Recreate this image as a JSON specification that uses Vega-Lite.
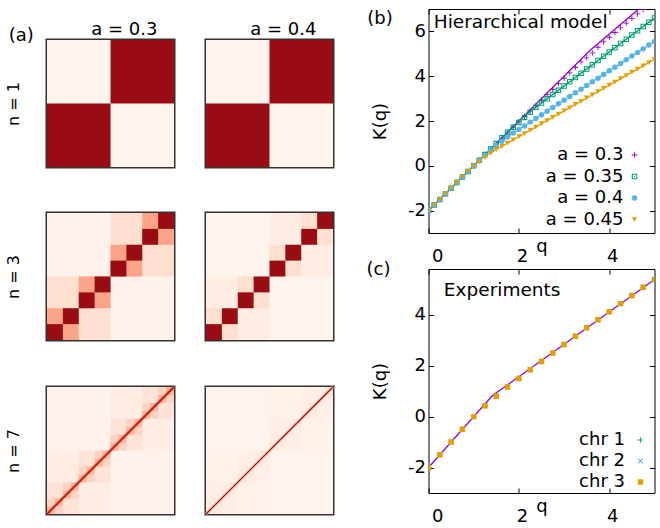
{
"$schema":"https://vega.github.io/schema/vega-lite/v6.json",
"padding":{"left":3,"top":8,"right":0,"bottom":0},
"config":{
 "font":"DejaVu Sans",
 "view":{"stroke":"#000","strokeWidth":1},
 "axis":{"labelFont":"DejaVu Sans","titleFont":"DejaVu Sans","labelColor":"#000","titleColor":"#000","titleFontWeight":"normal","tickColor":"#000","labelFontSize":18,"titleFontSize":18,"grid":false,"domain":false},
 "title":{"font":"DejaVu Sans","fontSize":18,"fontWeight":"normal","color":"#000"},
 "legend":{"labelFont":"DejaVu Sans","labelFontSize":18,"labelColor":"#000"},
 "text":{"font":"DejaVu Sans","fontSize":18,"color":"#000"}
},
"datasets":{
 "hm":[
  {"n":1,"x":0,"e":128,"v3":0.012,"v4":0.012},
  {"n":1,"x":0,"e":64,"v3":0.9,"v4":0.9},
  {"n":1,"x":64,"e":128,"v3":0.9,"v4":0.9},
  {"n":3,"x":0,"e":128,"v3":0.015,"v4":0.012},
  {"n":3,"x":0,"e":64,"v3":0.13,"v4":0.05},
  {"n":3,"x":64,"e":128,"v3":0.13,"v4":0.05},
  {"n":3,"x":0,"e":32,"v3":0.32,"v4":0.13},
  {"n":3,"x":32,"e":64,"v3":0.32,"v4":0.13},
  {"n":3,"x":64,"e":96,"v3":0.32,"v4":0.13},
  {"n":3,"x":96,"e":128,"v3":0.32,"v4":0.13},
  {"n":3,"x":0,"e":16,"v3":0.9,"v4":0.9},
  {"n":3,"x":16,"e":32,"v3":0.9,"v4":0.9},
  {"n":3,"x":32,"e":48,"v3":0.9,"v4":0.9},
  {"n":3,"x":48,"e":64,"v3":0.9,"v4":0.9},
  {"n":3,"x":64,"e":80,"v3":0.9,"v4":0.9},
  {"n":3,"x":80,"e":96,"v3":0.9,"v4":0.9},
  {"n":3,"x":96,"e":112,"v3":0.9,"v4":0.9},
  {"n":3,"x":112,"e":128,"v3":0.9,"v4":0.9},
  {"n":7,"x":0,"e":128,"v3":0.015,"v4":0.012},
  {"n":7,"x":0,"e":64,"v3":0.05,"v4":0.02},
  {"n":7,"x":64,"e":128,"v3":0.05,"v4":0.02},
  {"n":7,"x":0,"e":32,"v3":0.11,"v4":0.035},
  {"n":7,"x":32,"e":64,"v3":0.11,"v4":0.035},
  {"n":7,"x":64,"e":96,"v3":0.11,"v4":0.035},
  {"n":7,"x":96,"e":128,"v3":0.11,"v4":0.035},
  {"n":7,"x":0,"e":16,"v3":0.17,"v4":0.055},
  {"n":7,"x":16,"e":32,"v3":0.17,"v4":0.055},
  {"n":7,"x":32,"e":48,"v3":0.17,"v4":0.055},
  {"n":7,"x":48,"e":64,"v3":0.17,"v4":0.055},
  {"n":7,"x":64,"e":80,"v3":0.17,"v4":0.055},
  {"n":7,"x":80,"e":96,"v3":0.17,"v4":0.055},
  {"n":7,"x":96,"e":112,"v3":0.17,"v4":0.055},
  {"n":7,"x":112,"e":128,"v3":0.17,"v4":0.055},
  {"n":7,"x":0,"e":8,"v3":0.25,"v4":0.085},
  {"n":7,"x":8,"e":16,"v3":0.25,"v4":0.085},
  {"n":7,"x":16,"e":24,"v3":0.25,"v4":0.085},
  {"n":7,"x":24,"e":32,"v3":0.25,"v4":0.085},
  {"n":7,"x":32,"e":40,"v3":0.25,"v4":0.085},
  {"n":7,"x":40,"e":48,"v3":0.25,"v4":0.085},
  {"n":7,"x":48,"e":56,"v3":0.25,"v4":0.085},
  {"n":7,"x":56,"e":64,"v3":0.25,"v4":0.085},
  {"n":7,"x":64,"e":72,"v3":0.25,"v4":0.085},
  {"n":7,"x":72,"e":80,"v3":0.25,"v4":0.085},
  {"n":7,"x":80,"e":88,"v3":0.25,"v4":0.085},
  {"n":7,"x":88,"e":96,"v3":0.25,"v4":0.085},
  {"n":7,"x":96,"e":104,"v3":0.25,"v4":0.085},
  {"n":7,"x":104,"e":112,"v3":0.25,"v4":0.085},
  {"n":7,"x":112,"e":120,"v3":0.25,"v4":0.085},
  {"n":7,"x":120,"e":128,"v3":0.25,"v4":0.085},
  {"n":7,"x":0,"e":4,"v3":0.35,"v4":0.13},
  {"n":7,"x":4,"e":8,"v3":0.35,"v4":0.13},
  {"n":7,"x":8,"e":12,"v3":0.35,"v4":0.13},
  {"n":7,"x":12,"e":16,"v3":0.35,"v4":0.13},
  {"n":7,"x":16,"e":20,"v3":0.35,"v4":0.13},
  {"n":7,"x":20,"e":24,"v3":0.35,"v4":0.13},
  {"n":7,"x":24,"e":28,"v3":0.35,"v4":0.13},
  {"n":7,"x":28,"e":32,"v3":0.35,"v4":0.13},
  {"n":7,"x":32,"e":36,"v3":0.35,"v4":0.13},
  {"n":7,"x":36,"e":40,"v3":0.35,"v4":0.13},
  {"n":7,"x":40,"e":44,"v3":0.35,"v4":0.13},
  {"n":7,"x":44,"e":48,"v3":0.35,"v4":0.13},
  {"n":7,"x":48,"e":52,"v3":0.35,"v4":0.13},
  {"n":7,"x":52,"e":56,"v3":0.35,"v4":0.13},
  {"n":7,"x":56,"e":60,"v3":0.35,"v4":0.13},
  {"n":7,"x":60,"e":64,"v3":0.35,"v4":0.13},
  {"n":7,"x":64,"e":68,"v3":0.35,"v4":0.13},
  {"n":7,"x":68,"e":72,"v3":0.35,"v4":0.13},
  {"n":7,"x":72,"e":76,"v3":0.35,"v4":0.13},
  {"n":7,"x":76,"e":80,"v3":0.35,"v4":0.13},
  {"n":7,"x":80,"e":84,"v3":0.35,"v4":0.13},
  {"n":7,"x":84,"e":88,"v3":0.35,"v4":0.13},
  {"n":7,"x":88,"e":92,"v3":0.35,"v4":0.13},
  {"n":7,"x":92,"e":96,"v3":0.35,"v4":0.13},
  {"n":7,"x":96,"e":100,"v3":0.35,"v4":0.13},
  {"n":7,"x":100,"e":104,"v3":0.35,"v4":0.13},
  {"n":7,"x":104,"e":108,"v3":0.35,"v4":0.13},
  {"n":7,"x":108,"e":112,"v3":0.35,"v4":0.13},
  {"n":7,"x":112,"e":116,"v3":0.35,"v4":0.13},
  {"n":7,"x":116,"e":120,"v3":0.35,"v4":0.13},
  {"n":7,"x":120,"e":124,"v3":0.35,"v4":0.13},
  {"n":7,"x":124,"e":128,"v3":0.35,"v4":0.13}
 ],
 "dg":[
  {"n":7,"k":"b","x":0,"e":128,"v3":0.5,"v4":0.24},
  {"n":7,"k":"d","x":0,"e":128,"v3":0.9,"v4":0.9}
 ],
 "lb":[
  {"s":"a = 0.3","q":0,"K":-2},{"s":"a = 0.3","q":3.571,"K":5.143},{"s":"a = 0.3","q":5,"K":7.6},
  {"s":"a = 0.35","q":0,"K":-2},{"s":"a = 0.35","q":2.083,"K":2.167},{"s":"a = 0.35","q":5,"K":6.6},
  {"s":"a = 0.4","q":0,"K":-2},{"s":"a = 0.4","q":1.449,"K":0.899},{"s":"a = 0.4","q":5,"K":5.55},
  {"s":"a = 0.45","q":0,"K":-2},{"s":"a = 0.45","q":1.176,"K":0.353},{"s":"a = 0.45","q":5,"K":4.75}
 ],
 "kb":[
  {"s":"a = 0.3","q":0,"K":-2},{"s":"a = 0.3","q":0.125,"K":-1.75},{"s":"a = 0.3","q":0.25,"K":-1.5},{"s":"a = 0.3","q":0.375,"K":-1.25},{"s":"a = 0.3","q":0.5,"K":-1},{"s":"a = 0.3","q":0.625,"K":-0.75},{"s":"a = 0.3","q":0.75,"K":-0.5},{"s":"a = 0.3","q":0.875,"K":-0.25},{"s":"a = 0.3","q":1,"K":0},{"s":"a = 0.3","q":1.125,"K":0.25},{"s":"a = 0.3","q":1.25,"K":0.5},{"s":"a = 0.3","q":1.375,"K":0.74},{"s":"a = 0.3","q":1.5,"K":0.98},{"s":"a = 0.3","q":1.625,"K":1.23},{"s":"a = 0.3","q":1.75,"K":1.47},{"s":"a = 0.3","q":1.875,"K":1.72},{"s":"a = 0.3","q":2,"K":1.96},{"s":"a = 0.3","q":2.125,"K":2.2},{"s":"a = 0.3","q":2.25,"K":2.45},{"s":"a = 0.3","q":2.375,"K":2.69},{"s":"a = 0.3","q":2.5,"K":2.94},{"s":"a = 0.3","q":2.625,"K":3.18},{"s":"a = 0.3","q":2.75,"K":3.42},{"s":"a = 0.3","q":2.875,"K":3.67},{"s":"a = 0.3","q":3,"K":3.91},{"s":"a = 0.3","q":3.125,"K":4.15},{"s":"a = 0.3","q":3.25,"K":4.4},{"s":"a = 0.3","q":3.375,"K":4.64},{"s":"a = 0.3","q":3.5,"K":4.82},{"s":"a = 0.3","q":3.625,"K":5.04},{"s":"a = 0.3","q":3.75,"K":5.29},{"s":"a = 0.3","q":3.875,"K":5.53},{"s":"a = 0.3","q":4,"K":5.74},{"s":"a = 0.3","q":4.125,"K":5.95},{"s":"a = 0.3","q":4.25,"K":6.16},{"s":"a = 0.3","q":4.375,"K":6.37},{"s":"a = 0.3","q":4.5,"K":6.58},{"s":"a = 0.3","q":4.625,"K":6.78},{"s":"a = 0.3","q":4.75,"K":6.99},{"s":"a = 0.3","q":4.875,"K":7.2},{"s":"a = 0.3","q":5,"K":7.41},
  {"s":"a = 0.35","q":0,"K":-2},{"s":"a = 0.35","q":0.125,"K":-1.75},{"s":"a = 0.35","q":0.25,"K":-1.5},{"s":"a = 0.35","q":0.375,"K":-1.25},{"s":"a = 0.35","q":0.5,"K":-1},{"s":"a = 0.35","q":0.625,"K":-0.75},{"s":"a = 0.35","q":0.75,"K":-0.5},{"s":"a = 0.35","q":0.875,"K":-0.25},{"s":"a = 0.35","q":1,"K":0},{"s":"a = 0.35","q":1.125,"K":0.25},{"s":"a = 0.35","q":1.25,"K":0.5},{"s":"a = 0.35","q":1.375,"K":0.75},{"s":"a = 0.35","q":1.5,"K":1},{"s":"a = 0.35","q":1.625,"K":1.25},{"s":"a = 0.35","q":1.75,"K":1.5},{"s":"a = 0.35","q":1.875,"K":1.72},{"s":"a = 0.35","q":2,"K":1.93},{"s":"a = 0.35","q":2.125,"K":2.16},{"s":"a = 0.35","q":2.25,"K":2.39},{"s":"a = 0.35","q":2.375,"K":2.61},{"s":"a = 0.35","q":2.5,"K":2.8},{"s":"a = 0.35","q":2.625,"K":2.99},{"s":"a = 0.35","q":2.75,"K":3.18},{"s":"a = 0.35","q":2.875,"K":3.37},{"s":"a = 0.35","q":3,"K":3.56},{"s":"a = 0.35","q":3.125,"K":3.75},{"s":"a = 0.35","q":3.25,"K":3.94},{"s":"a = 0.35","q":3.375,"K":4.13},{"s":"a = 0.35","q":3.5,"K":4.32},{"s":"a = 0.35","q":3.625,"K":4.51},{"s":"a = 0.35","q":3.75,"K":4.7},{"s":"a = 0.35","q":3.875,"K":4.89},{"s":"a = 0.35","q":4,"K":5.08},{"s":"a = 0.35","q":4.125,"K":5.27},{"s":"a = 0.35","q":4.25,"K":5.46},{"s":"a = 0.35","q":4.375,"K":5.65},{"s":"a = 0.35","q":4.5,"K":5.84},{"s":"a = 0.35","q":4.625,"K":6.03},{"s":"a = 0.35","q":4.75,"K":6.22},{"s":"a = 0.35","q":4.875,"K":6.41},{"s":"a = 0.35","q":5,"K":6.6},
  {"s":"a = 0.4","q":0,"K":-2},{"s":"a = 0.4","q":0.125,"K":-1.75},{"s":"a = 0.4","q":0.25,"K":-1.5},{"s":"a = 0.4","q":0.375,"K":-1.25},{"s":"a = 0.4","q":0.5,"K":-1},{"s":"a = 0.4","q":0.625,"K":-0.75},{"s":"a = 0.4","q":0.75,"K":-0.5},{"s":"a = 0.4","q":0.875,"K":-0.25},{"s":"a = 0.4","q":1,"K":0},{"s":"a = 0.4","q":1.125,"K":0.25},{"s":"a = 0.4","q":1.25,"K":0.47},{"s":"a = 0.4","q":1.375,"K":0.68},{"s":"a = 0.4","q":1.5,"K":0.9},{"s":"a = 0.4","q":1.625,"K":1.1},{"s":"a = 0.4","q":1.75,"K":1.29},{"s":"a = 0.4","q":1.875,"K":1.46},{"s":"a = 0.4","q":2,"K":1.62},{"s":"a = 0.4","q":2.125,"K":1.78},{"s":"a = 0.4","q":2.25,"K":1.95},{"s":"a = 0.4","q":2.375,"K":2.11},{"s":"a = 0.4","q":2.5,"K":2.28},{"s":"a = 0.4","q":2.625,"K":2.44},{"s":"a = 0.4","q":2.75,"K":2.6},{"s":"a = 0.4","q":2.875,"K":2.77},{"s":"a = 0.4","q":3,"K":2.93},{"s":"a = 0.4","q":3.125,"K":3.09},{"s":"a = 0.4","q":3.25,"K":3.26},{"s":"a = 0.4","q":3.375,"K":3.42},{"s":"a = 0.4","q":3.5,"K":3.59},{"s":"a = 0.4","q":3.625,"K":3.75},{"s":"a = 0.4","q":3.75,"K":3.91},{"s":"a = 0.4","q":3.875,"K":4.08},{"s":"a = 0.4","q":4,"K":4.24},{"s":"a = 0.4","q":4.125,"K":4.4},{"s":"a = 0.4","q":4.25,"K":4.57},{"s":"a = 0.4","q":4.375,"K":4.73},{"s":"a = 0.4","q":4.5,"K":4.9},{"s":"a = 0.4","q":4.625,"K":5.06},{"s":"a = 0.4","q":4.75,"K":5.22},{"s":"a = 0.4","q":4.875,"K":5.39},{"s":"a = 0.4","q":5,"K":5.55},
  {"s":"a = 0.45","q":0,"K":-2},{"s":"a = 0.45","q":0.125,"K":-1.75},{"s":"a = 0.45","q":0.25,"K":-1.5},{"s":"a = 0.45","q":0.375,"K":-1.25},{"s":"a = 0.45","q":0.5,"K":-1},{"s":"a = 0.45","q":0.625,"K":-0.75},{"s":"a = 0.45","q":0.75,"K":-0.5},{"s":"a = 0.45","q":0.875,"K":-0.25},{"s":"a = 0.45","q":1,"K":-0.03},{"s":"a = 0.45","q":1.125,"K":0.18},{"s":"a = 0.45","q":1.25,"K":0.37},{"s":"a = 0.45","q":1.375,"K":0.55},{"s":"a = 0.45","q":1.5,"K":0.72},{"s":"a = 0.45","q":1.625,"K":0.87},{"s":"a = 0.45","q":1.75,"K":1.01},{"s":"a = 0.45","q":1.875,"K":1.16},{"s":"a = 0.45","q":2,"K":1.3},{"s":"a = 0.45","q":2.125,"K":1.44},{"s":"a = 0.45","q":2.25,"K":1.59},{"s":"a = 0.45","q":2.375,"K":1.73},{"s":"a = 0.45","q":2.5,"K":1.88},{"s":"a = 0.45","q":2.625,"K":2.02},{"s":"a = 0.45","q":2.75,"K":2.16},{"s":"a = 0.45","q":2.875,"K":2.31},{"s":"a = 0.45","q":3,"K":2.45},{"s":"a = 0.45","q":3.125,"K":2.59},{"s":"a = 0.45","q":3.25,"K":2.74},{"s":"a = 0.45","q":3.375,"K":2.88},{"s":"a = 0.45","q":3.5,"K":3.03},{"s":"a = 0.45","q":3.625,"K":3.17},{"s":"a = 0.45","q":3.75,"K":3.31},{"s":"a = 0.45","q":3.875,"K":3.46},{"s":"a = 0.45","q":4,"K":3.6},{"s":"a = 0.45","q":4.125,"K":3.74},{"s":"a = 0.45","q":4.25,"K":3.89},{"s":"a = 0.45","q":4.375,"K":4.03},{"s":"a = 0.45","q":4.5,"K":4.18},{"s":"a = 0.45","q":4.625,"K":4.32},{"s":"a = 0.45","q":4.75,"K":4.46},{"s":"a = 0.45","q":4.875,"K":4.61},{"s":"a = 0.45","q":5,"K":4.75}
 ],
 "lc":[{"q":0,"K":-2},{"q":1.41,"K":0.82},{"q":5,"K":5.39}],
 "kc":[
  {"s":"chr 1","q":0,"K":-2},{"s":"chr 1","q":0.25,"K":-1.5},{"s":"chr 1","q":0.5,"K":-1},{"s":"chr 1","q":0.75,"K":-0.5},{"s":"chr 1","q":1,"K":0},{"s":"chr 1","q":1.25,"K":0.43},{"s":"chr 1","q":1.5,"K":0.8},{"s":"chr 1","q":1.75,"K":1.16},{"s":"chr 1","q":2,"K":1.5},{"s":"chr 1","q":2.25,"K":1.84},{"s":"chr 1","q":2.5,"K":2.17},{"s":"chr 1","q":2.75,"K":2.5},{"s":"chr 1","q":3,"K":2.83},{"s":"chr 1","q":3.25,"K":3.16},{"s":"chr 1","q":3.5,"K":3.49},{"s":"chr 1","q":3.75,"K":3.81},{"s":"chr 1","q":4,"K":4.12},{"s":"chr 1","q":4.25,"K":4.44},{"s":"chr 1","q":4.5,"K":4.76},{"s":"chr 1","q":4.75,"K":5.08},{"s":"chr 1","q":5,"K":5.39},
  {"s":"chr 2","q":0,"K":-2},{"s":"chr 2","q":0.25,"K":-1.5},{"s":"chr 2","q":0.5,"K":-1},{"s":"chr 2","q":0.75,"K":-0.5},{"s":"chr 2","q":1,"K":0},{"s":"chr 2","q":1.25,"K":0.43},{"s":"chr 2","q":1.5,"K":0.8},{"s":"chr 2","q":1.75,"K":1.16},{"s":"chr 2","q":2,"K":1.5},{"s":"chr 2","q":2.25,"K":1.84},{"s":"chr 2","q":2.5,"K":2.17},{"s":"chr 2","q":2.75,"K":2.5},{"s":"chr 2","q":3,"K":2.83},{"s":"chr 2","q":3.25,"K":3.16},{"s":"chr 2","q":3.5,"K":3.49},{"s":"chr 2","q":3.75,"K":3.81},{"s":"chr 2","q":4,"K":4.12},{"s":"chr 2","q":4.25,"K":4.44},{"s":"chr 2","q":4.5,"K":4.76},{"s":"chr 2","q":4.75,"K":5.08},{"s":"chr 2","q":5,"K":5.39},
  {"s":"chr 3","q":0,"K":-2},{"s":"chr 3","q":0.25,"K":-1.5},{"s":"chr 3","q":0.5,"K":-1},{"s":"chr 3","q":0.75,"K":-0.5},{"s":"chr 3","q":1,"K":0},{"s":"chr 3","q":1.25,"K":0.43},{"s":"chr 3","q":1.5,"K":0.8},{"s":"chr 3","q":1.75,"K":1.16},{"s":"chr 3","q":2,"K":1.5},{"s":"chr 3","q":2.25,"K":1.84},{"s":"chr 3","q":2.5,"K":2.17},{"s":"chr 3","q":2.75,"K":2.5},{"s":"chr 3","q":3,"K":2.83},{"s":"chr 3","q":3.25,"K":3.16},{"s":"chr 3","q":3.5,"K":3.49},{"s":"chr 3","q":3.75,"K":3.81},{"s":"chr 3","q":4,"K":4.12},{"s":"chr 3","q":4.25,"K":4.44},{"s":"chr 3","q":4.5,"K":4.76},{"s":"chr 3","q":4.75,"K":5.08},{"s":"chr 3","q":5,"K":5.39}
 ]
},
"spacing":29.5,
"resolve":{"scale":{"color":"independent","shape":"independent"}},
"hconcat":[
 {"spacing":0,
  "vconcat":[
   {"width":1,"height":10,"view":{"stroke":null,"fill":"transparent"},"data":{"values":[]},"mark":"point"},
   {"spacing":42,
    "vconcat":[
     {"bounds":"flush","spacing":32,"hconcat":[
      {"width":127,"height":127,"view":{"stroke":"#333","strokeWidth":3},
       "layer":[
        {"data":{"name":"hm"},"transform":[{"filter":"datum.n==1"}],"mark":{"type":"rect","opacity":1},
         "encoding":{
          "x":{"field":"x","type":"quantitative","scale":{"domain":[0,128],"nice":false,"zero":false},"axis":null},
          "x2":{"field":"e"},
          "y":{"field":"x","type":"quantitative","scale":{"domain":[0,128],"nice":false,"zero":false},"axis":{"title":"n = 1","labels":false,"ticks":false,"titleFontSize":16,"titlePadding":26}},
          "y2":{"field":"e"},
          "color":{"field":"v3","type":"quantitative","scale":{"domain":[0,1],"range":["#fff5f0","#fee0d2","#fcbba1","#fc9272","#fb6a4a","#ef3b2c","#cb181d","#a50f15","#67000d"],"interpolate":"rgb","nice":false,"zero":false},"legend":null}}},
        {"data":{"values":[{"t":"a = 0.3"}]},"mark":{"type":"text","align":"center","baseline":"alphabetic"},
         "encoding":{"x":{"datum":78},"y":{"datum":132.7},"text":{"field":"t"}}},
        {"data":{"values":[{"t":"(a)"}]},"mark":{"type":"text","align":"left","baseline":"alphabetic"},
         "encoding":{"x":{"datum":-38.5},"y":{"datum":126.5},"text":{"field":"t"}}}
       ]},
      {"width":127,"height":127,"view":{"stroke":"#333","strokeWidth":3},
       "layer":[
        {"data":{"name":"hm"},"transform":[{"filter":"datum.n==1"}],"mark":{"type":"rect","opacity":1},
         "encoding":{
          "x":{"field":"x","type":"quantitative","scale":{"domain":[0,128],"nice":false,"zero":false},"axis":null},
          "x2":{"field":"e"},
          "y":{"field":"x","type":"quantitative","scale":{"domain":[0,128],"nice":false,"zero":false},"axis":null},
          "y2":{"field":"e"},
          "color":{"field":"v4","type":"quantitative","scale":{"domain":[0,1],"range":["#fff5f0","#fee0d2","#fcbba1","#fc9272","#fb6a4a","#ef3b2c","#cb181d","#a50f15","#67000d"],"interpolate":"rgb","nice":false,"zero":false},"legend":null}}},
        {"data":{"values":[{"t":"a = 0.4"}]},"mark":{"type":"text","align":"center","baseline":"alphabetic"},
         "encoding":{"x":{"datum":78},"y":{"datum":132.7},"text":{"field":"t"}}}
       ]}
     ]},
     {"bounds":"flush","spacing":32,"hconcat":[
      {"width":127,"height":127,"view":{"stroke":"#333","strokeWidth":3},
       "data":{"name":"hm"},"transform":[{"filter":"datum.n==3"}],"mark":{"type":"rect","opacity":1},
       "encoding":{
        "x":{"field":"x","type":"quantitative","scale":{"domain":[0,128],"nice":false,"zero":false},"axis":null},
        "x2":{"field":"e"},
        "y":{"field":"x","type":"quantitative","scale":{"domain":[0,128],"nice":false,"zero":false},"axis":{"title":"n = 3","labels":false,"ticks":false,"titleFontSize":16,"titlePadding":26}},
        "y2":{"field":"e"},
        "color":{"field":"v3","type":"quantitative","scale":{"domain":[0,1],"range":["#fff5f0","#fee0d2","#fcbba1","#fc9272","#fb6a4a","#ef3b2c","#cb181d","#a50f15","#67000d"],"interpolate":"rgb","nice":false,"zero":false},"legend":null}}},
      {"width":127,"height":127,"view":{"stroke":"#333","strokeWidth":3},
       "data":{"name":"hm"},"transform":[{"filter":"datum.n==3"}],"mark":{"type":"rect","opacity":1},
       "encoding":{
        "x":{"field":"x","type":"quantitative","scale":{"domain":[0,128],"nice":false,"zero":false},"axis":null},
        "x2":{"field":"e"},
        "y":{"field":"x","type":"quantitative","scale":{"domain":[0,128],"nice":false,"zero":false},"axis":null},
        "y2":{"field":"e"},
        "color":{"field":"v4","type":"quantitative","scale":{"domain":[0,1],"range":["#fff5f0","#fee0d2","#fcbba1","#fc9272","#fb6a4a","#ef3b2c","#cb181d","#a50f15","#67000d"],"interpolate":"rgb","nice":false,"zero":false},"legend":null}}}
     ]},
     {"bounds":"flush","spacing":32,"hconcat":[
      {"width":127,"height":127,"view":{"stroke":"#333","strokeWidth":3},
       "layer":[
        {"data":{"name":"hm"},"transform":[{"filter":"datum.n==7"}],"mark":{"type":"rect","opacity":1},
         "encoding":{
          "x":{"field":"x","type":"quantitative","scale":{"domain":[0,128],"nice":false,"zero":false},"axis":null},
          "x2":{"field":"e"},
          "y":{"field":"x","type":"quantitative","scale":{"domain":[0,128],"nice":false,"zero":false},"axis":{"title":"n = 7","labels":false,"ticks":false,"titleFontSize":16,"titlePadding":26}},
          "y2":{"field":"e"},
          "color":{"field":"v3","type":"quantitative","scale":{"domain":[0,1],"range":["#fff5f0","#fee0d2","#fcbba1","#fc9272","#fb6a4a","#ef3b2c","#cb181d","#a50f15","#67000d"],"interpolate":"rgb","nice":false,"zero":false},"legend":null}}},
        {"data":{"name":"dg"},"transform":[{"filter":"datum.k=='b'"}],"mark":{"type":"rule","strokeWidth":2.8,"opacity":1},
         "encoding":{"x":{"field":"x","type":"quantitative"},"x2":{"field":"e"},"y":{"field":"x","type":"quantitative"},"y2":{"field":"e"},"color":{"field":"v3","type":"quantitative","legend":null}}},
        {"data":{"name":"dg"},"transform":[{"filter":"datum.k=='d'"}],"mark":{"type":"rule","strokeWidth":1.1,"opacity":1},
         "encoding":{"x":{"field":"x","type":"quantitative"},"x2":{"field":"e"},"y":{"field":"x","type":"quantitative"},"y2":{"field":"e"},"color":{"field":"v3","type":"quantitative","legend":null}}}
       ]},
      {"width":127,"height":127,"view":{"stroke":"#333","strokeWidth":3},
       "layer":[
        {"data":{"name":"hm"},"transform":[{"filter":"datum.n==7"}],"mark":{"type":"rect","opacity":1},
         "encoding":{
          "x":{"field":"x","type":"quantitative","scale":{"domain":[0,128],"nice":false,"zero":false},"axis":null},
          "x2":{"field":"e"},
          "y":{"field":"x","type":"quantitative","scale":{"domain":[0,128],"nice":false,"zero":false},"axis":null},
          "y2":{"field":"e"},
          "color":{"field":"v4","type":"quantitative","scale":{"domain":[0,1],"range":["#fff5f0","#fee0d2","#fcbba1","#fc9272","#fb6a4a","#ef3b2c","#cb181d","#a50f15","#67000d"],"interpolate":"rgb","nice":false,"zero":false},"legend":null}}},
        {"data":{"name":"dg"},"transform":[{"filter":"datum.k=='b'"}],"mark":{"type":"rule","strokeWidth":2.8,"opacity":1},
         "encoding":{"x":{"field":"x","type":"quantitative"},"x2":{"field":"e"},"y":{"field":"x","type":"quantitative"},"y2":{"field":"e"},"color":{"field":"v4","type":"quantitative","legend":null}}},
        {"data":{"name":"dg"},"transform":[{"filter":"datum.k=='d'"}],"mark":{"type":"rule","strokeWidth":1.1,"opacity":1},
         "encoding":{"x":{"field":"x","type":"quantitative"},"x2":{"field":"e"},"y":{"field":"x","type":"quantitative"},"y2":{"field":"e"},"color":{"field":"v4","type":"quantitative","legend":null}}}
       ]}
     ]}
    ]}
  ]},
 {"bounds":"flush","spacing":36,
  "resolve":{"scale":{"color":"independent","shape":"independent"}},
  "vconcat":[
   {"width":226,"height":224,
    "resolve":{"axis":{"x":"independent","y":"independent"}},
    "layer":[
     {"data":{"name":"lb"},"transform":[{"filter":"datum.s=='a = 0.3'"}],"mark":{"type":"line","clip":true,"strokeWidth":1.3,"color":"#9400d3"},
      "encoding":{
       "x":{"field":"q","type":"quantitative","scale":{"domain":[0,5],"nice":false,"zero":false},"axis":{"values":[0,2,4],"tickSize":-5,"labelPadding":19,"labelOffset":3,"title":"q","titleY":18,"titleBaseline":"alphabetic","labelExpr":"''+datum.value"}},
       "y":{"field":"K","type":"quantitative","scale":{"domain":[-3,7],"nice":false,"zero":false},"axis":{"values":[-2,0,2,4,6],"tickSize":-5,"labelPadding":8,"title":"K(q)","titlePadding":18,"labelExpr":"''+datum.value"}}}},
     {"data":{"name":"lb"},"transform":[{"filter":"datum.s=='a = 0.35'"}],"mark":{"type":"line","clip":true,"strokeWidth":1.3,"color":"#009e73"},
      "encoding":{"x":{"field":"q","type":"quantitative","axis":null},"y":{"field":"K","type":"quantitative","axis":null}}},
     {"data":{"name":"lb"},"transform":[{"filter":"datum.s=='a = 0.4'"}],"mark":{"type":"line","clip":true,"strokeWidth":1.3,"color":"#56b4e9"},
      "encoding":{"x":{"field":"q","type":"quantitative","axis":null},"y":{"field":"K","type":"quantitative","axis":null}}},
     {"data":{"name":"lb"},"transform":[{"filter":"datum.s=='a = 0.45'"}],"mark":{"type":"line","clip":true,"strokeWidth":1.3,"color":"#e69f00"},
      "encoding":{"x":{"field":"q","type":"quantitative","axis":null},"y":{"field":"K","type":"quantitative","axis":null}}},
     {"data":{"name":"kb"},"mark":{"type":"point","filled":true,"clip":true,"size":30,"opacity":1},
      "encoding":{
       "x":{"field":"q","type":"quantitative","axis":null},
       "y":{"field":"K","type":"quantitative","axis":null},
       "color":{"field":"s","type":"nominal","scale":{"domain":["a = 0.3","a = 0.35","a = 0.4","a = 0.45"],"range":["#9400d3","#009e73","#56b4e9","#e69f00"]},
        "legend":{"orient":"none","legendX":197,"legendY":137,"title":null,"labelAlign":"right","labelOffset":-20,"rowPadding":3.5,"labelLimit":0,"symbolSize":30}},
       "shape":{"field":"s","type":"nominal","scale":{"domain":["a = 0.3","a = 0.35","a = 0.4","a = 0.45"],"range":["M-1,-0.16H-0.16V-1H0.16V-0.16H1V0.16H0.16V1H-0.16V0.16H-1Z","M-1,-1H1V1H-1Z M-0.62,-0.62V0.62H0.62V-0.62Z M-0.2,-0.2H0.2V0.2H-0.2Z","circle","triangle-down"]},
        "legend":{"orient":"none","legendX":197,"legendY":137,"title":null,"labelAlign":"right","labelOffset":-20,"rowPadding":3.5,"labelLimit":0,"symbolSize":30}}}},
     {"data":{"values":[{"t":"(b)"}]},"mark":{"type":"text","align":"left","baseline":"alphabetic"},
      "encoding":{"x":{"datum":-1.356,"axis":null},"y":{"datum":6.33,"axis":null},"text":{"field":"t"}}},
     {"data":{"values":[{"t":"Hierarchical model"}]},"mark":{"type":"text","align":"left","baseline":"alphabetic","fontSize":18.5},
      "encoding":{"x":{"datum":0.117,"axis":null},"y":{"datum":6.14,"axis":null},"text":{"field":"t"}}},
     {"data":{"name":"lb"},"mark":{"type":"point","opacity":0,"clip":true},
      "encoding":{
       "x":{"field":"q","type":"quantitative","axis":{"orient":"top","values":[0,2,4],"labels":false,"tickSize":-5,"title":null,"minExtent":0,"maxExtent":0}},
       "y":{"field":"K","type":"quantitative","axis":{"orient":"right","values":[-2,0,2,4,6],"labels":false,"tickSize":-5,"title":null,"minExtent":0,"maxExtent":0}}}}
    ]},
   {"width":226,"height":224,
    "resolve":{"axis":{"x":"independent","y":"independent"}},
    "layer":[
     {"data":{"name":"lc"},"mark":{"type":"line","clip":true,"strokeWidth":1.3,"color":"#9400d3"},
      "encoding":{
       "x":{"field":"q","type":"quantitative","scale":{"domain":[0,5],"nice":false,"zero":false},"axis":{"values":[0,2,4],"tickSize":-5,"labelPadding":19,"labelOffset":3,"title":"q","titleY":18,"titleBaseline":"alphabetic","labelExpr":"''+datum.value"}},
       "y":{"field":"K","type":"quantitative","scale":{"domain":[-3,5.8],"nice":false,"zero":false},"axis":{"values":[-2,0,2,4],"tickSize":-5,"labelPadding":8,"title":"K(q)","titlePadding":18,"labelExpr":"''+datum.value"}}}},
     {"data":{"name":"kc"},"mark":{"type":"point","filled":true,"clip":true,"size":30,"opacity":1},
      "encoding":{
       "x":{"field":"q","type":"quantitative","axis":null},
       "y":{"field":"K","type":"quantitative","axis":null},
       "color":{"field":"s","type":"nominal","scale":{"domain":["chr 1","chr 2","chr 3"],"range":["#009e73","#56b4e9","#e69f00"]},
        "legend":{"orient":"none","legendX":203,"legendY":162,"title":null,"labelAlign":"right","labelOffset":-24.5,"rowPadding":3,"labelLimit":0,"symbolSize":30}},
       "shape":{"field":"s","type":"nominal","scale":{"domain":["chr 1","chr 2","chr 3"],"range":["M-1,-0.16H-0.16V-1H0.16V-0.16H1V0.16H0.16V1H-0.16V0.16H-1Z","M-1,-0.75L-0.75,-1L0,-0.25L0.75,-1L1,-0.75L0.25,0L1,0.75L0.75,1L0,0.25L-0.75,1L-1,0.75L-0.25,0Z","square"]},
        "legend":{"orient":"none","legendX":203,"legendY":162,"title":null,"labelAlign":"right","labelOffset":-24.5,"rowPadding":3,"labelLimit":0,"symbolSize":30}}}},
     {"data":{"values":[{"t":"(c)"}]},"mark":{"type":"text","align":"left","baseline":"alphabetic"},
      "encoding":{"x":{"datum":-1.37,"axis":null},"y":{"datum":5.56,"axis":null},"text":{"field":"t"}}},
     {"data":{"values":[{"t":"Experiments"}]},"mark":{"type":"text","align":"left","baseline":"alphabetic","fontSize":18.5},
      "encoding":{"x":{"datum":0.34,"axis":null},"y":{"datum":4.74,"axis":null},"text":{"field":"t"}}},
     {"data":{"name":"lc"},"mark":{"type":"point","opacity":0,"clip":true},
      "encoding":{
       "x":{"field":"q","type":"quantitative","axis":{"orient":"top","values":[0,2,4],"labels":false,"tickSize":-5,"title":null,"minExtent":0,"maxExtent":0}},
       "y":{"field":"K","type":"quantitative","axis":{"orient":"right","values":[-2,0,2,4],"labels":false,"tickSize":-5,"title":null,"minExtent":0,"maxExtent":0}}}}
    ]}
  ]}
]
}
